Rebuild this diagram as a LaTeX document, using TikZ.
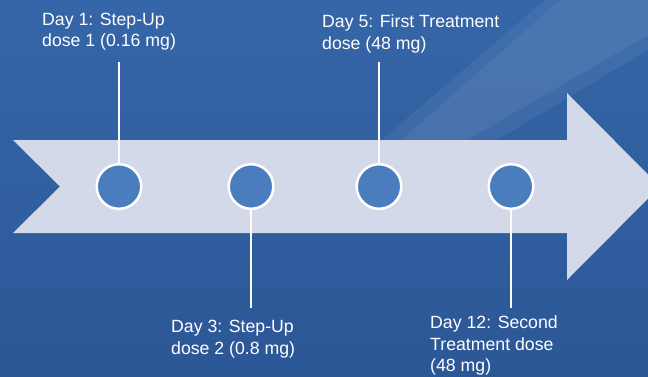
\documentclass[tikz,border=0pt]{standalone}
\usepackage{fontspec}
\setmainfont{Liberation Sans}
\definecolor{bgtop}{HTML}{3566A8}
\definecolor{bgbot}{HTML}{2C5796}
\definecolor{arrowfill}{HTML}{D3D9E8}
\definecolor{dotfill}{HTML}{4A7DBD}
\tikzset{
  dot/.style={circle, draw=white, line width=2.5bp, fill=dotfill, minimum size=44.6bp, inner sep=0pt},
  lbl/.style={text=white, align=left, inner sep=0pt, anchor=north west,
    font=\fontsize{17.7bp}{21.7bp}\selectfont},
  stem/.style={draw=white, line width=1.3bp}
}
\begin{document}
\begin{tikzpicture}[x=1bp,y=-1bp]
\useasboundingbox (0,0) rectangle (648,376);
\clip (0,0) rectangle (648,376);
% background
\shade[top color=bgtop, bottom color=bgbot] (0,0) rectangle (648,376);
\fill[white, fill opacity=0.06] (370,150) -- (545,0) -- (648,0) -- (648,50) -- (480,150) -- cycle;
\fill[white, fill opacity=0.06] (390,150) -- (560,0) -- (648,0) -- (648,35) -- (450,150) -- cycle;
% arrow
\fill[arrowfill] (13,140) -- (567,140) -- (567,93) -- (660,186.5) -- (567,280)
  -- (567,233) -- (13,233) -- (60,186.5) -- cycle;
% dots
\node[dot] (c1) at (119,186.5) {};
\node[dot] (c2) at (251,186.5) {};
\node[dot] (c3) at (379,186.5) {};
\node[dot] (c4) at (511,186.5) {};
% stem ends
\coordinate (t1) at (119,61.5);
\coordinate (t2) at (251,308);
\coordinate (t3) at (379,61.5);
\coordinate (t4) at (511,308);
\draw[stem] (t1) -- (c1.north);
\draw[stem] (c2.south) -- (t2);
\draw[stem] (t3) -- (c3.north);
\draw[stem] (c4.south) -- (t4);
% labels
\node[lbl] (l1) at (42,12.5) {Day 1: Step-Up\\dose 1 (0.16 mg)};
\node[lbl] (l2) at (171,320) {Day 3: Step-Up\\dose 2 (0.8 mg)};
\node[lbl] (l3) at (322,14.5) {Day 5: First Treatment\\dose (48 mg)};
\node[lbl] (l4) at (430,315.5) {Day 12: Second\\Treatment dose\\(48 mg)};
\end{tikzpicture}
\end{document}
